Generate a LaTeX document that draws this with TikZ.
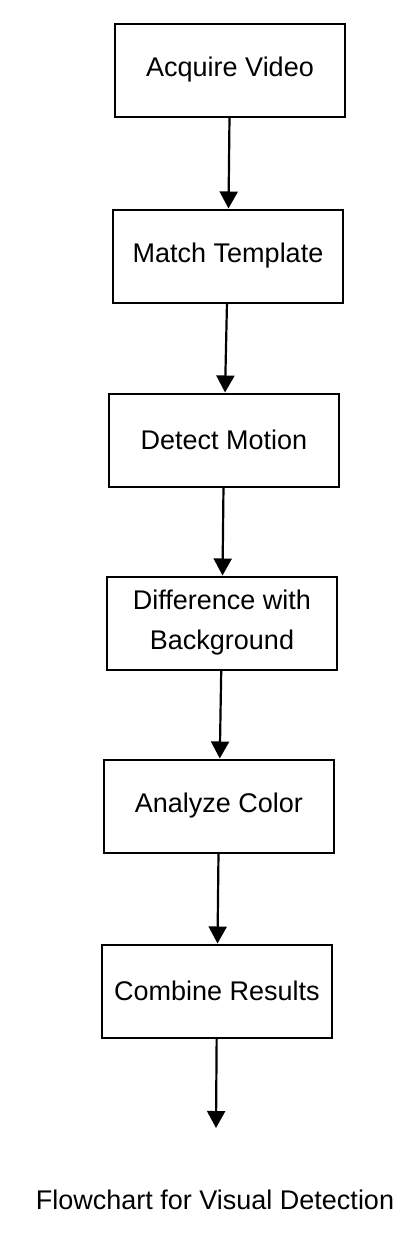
\documentclass[tikz,border=0pt]{standalone}
\usepackage{fontspec}
\setmainfont{Liberation Sans}
\usetikzlibrary{arrows.meta}

\begin{document}
\begin{tikzpicture}[x=0.5pt,y=-0.5pt,
  stepbox/.style={draw,line width=1pt,minimum width=115pt,minimum height=46.5pt,inner sep=0pt,align=center,font=\fontsize{13.5}{20}\selectfont},
  flow/.style={-{Triangle[length=8.5pt,width=9pt]},line width=1.1pt}]
\useasboundingbox (0,0) rectangle (419,1238);

\node [stepbox] (acquire) at (230,70) {Acquire Video};
\node [stepbox] (match) at (228,256) {Match Template};
\node [stepbox] (motion) at (224,440) {Detect Motion};
\node [stepbox] (diff) at (222,623) {Difference with\\Background};
\node [stepbox] (color) at (219,806) {Analyze Color};
\node [stepbox] (combine) at (217,991) {Combine Results};
\coordinate (out) at (216,1128);
\node [anchor=base,font=\fontsize{13.5}{16}\selectfont] (caption) at (215,1209) {Flowchart for Visual Detection};

\draw [flow] (acquire) to (match);
\draw [flow] (match) to (motion);
\draw [flow] (motion) to (diff);
\draw [flow] (diff) to (color);
\draw [flow] (color) to (combine);
\draw [flow] (combine) to (out);

\end{tikzpicture}
\end{document}
